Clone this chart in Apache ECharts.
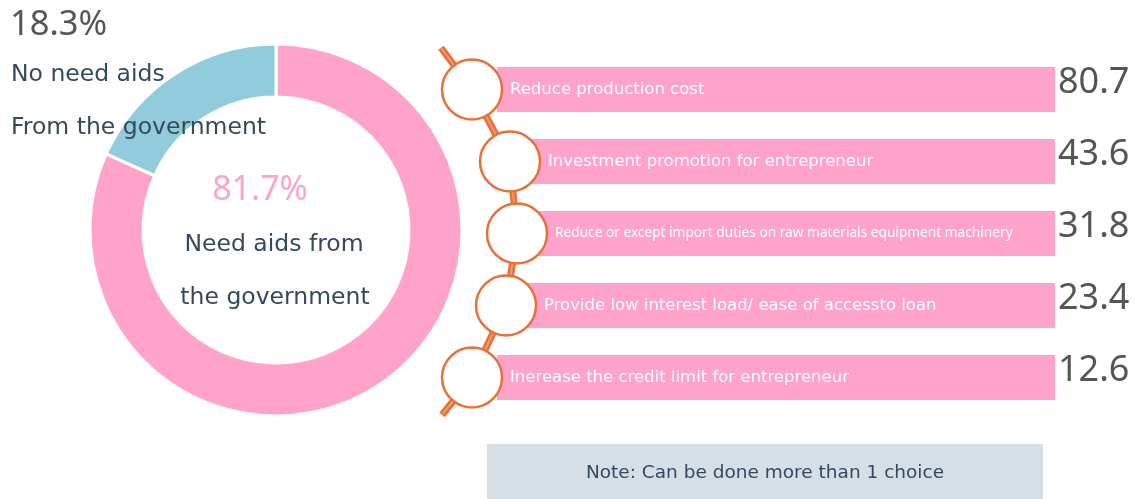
<!DOCTYPE html>
<html>
<head>
<meta charset="utf-8">
<script src="https://cdn.jsdelivr.net/npm/echarts@6/dist/echarts.min.js"></script>
<style>
  html, body { margin: 0; padding: 0; background: #fff; }
  #chart { width: 1135px; height: 499px; }
</style>
</head>
<body>
<div id="chart"></div>
<script>
// donut
const shareNames = ['Need aids from the government', 'No need aids From the government'];
const shareValues = [81.7, 18.3];

// bars (all drawn as full tracks in the original)
const reasons = [
  'Reduce production cost',
  'Investment promotion for entrepreneur',
  'Reduce or except import duties on raw materials equipment machinery',
  'Provide low interest load/ ease of accessto loan',
  'Inerease the credit limit for entrepreneur'
];
const reasonValues = [80.7, 43.6, 31.8, 23.4, 12.6];

// zigzag of the bead string (x offset in a 0..100 decor axis)
const beadX = [42, 80, 87, 76, 42];
const stringTop = [11, -0.58];
const stringBottom = [12, 4.52];

const PINK = '#ffa3cb';
const BLUE = '#92cbdc';
const ORANGE = '#e8703a';
const DARK = '#34495e';

const chart = echarts.init(document.getElementById('chart'));

const barLeft = 497;
const decorLeft = 430;

const barData = reasonValues.map((v, i) => ({
  value: v,
  label: {
    offset: [decorLeft + beadX[i] + 38 - barLeft - 5, 0],
    fontSize: i === 2 ? 13.7 : 16.5,
    fontFamily: i === 2 ? 'Noto Sans' : 'DejaVu Sans'
  }
}));

const stringPath = [stringTop].concat(beadX.map((x, i) => [x, i]), [stringBottom]);

const txt = (style, pos) => Object.assign({ type: 'text', z: 100 }, pos, { style: style });

chart.setOption({
  animation: false,
  grid: [
    { left: barLeft, right: 80, top: 53.5, height: 360 },
    { left: decorLeft, width: 100, top: 53.5, height: 360 },
    // value labels sit a little above the bar centres
    { left: barLeft, right: 80, top: 46.5, height: 360 }
  ],
  xAxis: [
    { gridIndex: 0, type: 'value', min: 0, max: 100, show: false },
    { gridIndex: 1, type: 'value', min: 0, max: 100, show: false },
    { gridIndex: 2, type: 'value', min: 0, max: 100, show: false }
  ],
  yAxis: [
    { gridIndex: 0, type: 'category', data: reasons, inverse: true, show: false },
    {
      gridIndex: 2, type: 'category', position: 'right', inverse: true,
      data: reasonValues.map(v => v.toFixed(1)),
      axisLine: { show: false }, axisTick: { show: false },
      axisLabel: { margin: 3, fontSize: 36, color: '#555', fontFamily: 'Noto Sans' }
    },
    { gridIndex: 1, type: 'value', min: -0.5, max: 4.5, inverse: true, show: false }
  ],
  series: [
    {
      type: 'pie',
      center: [276, 230],
      radius: [133, 186],
      startAngle: 90,
      z: 1,
      label: { show: false },
      emphasis: { disabled: true },
      itemStyle: { borderColor: '#fff', borderWidth: 3 },
      data: shareValues.map((v, i) => ({
        name: shareNames[i], value: v,
        itemStyle: { color: i === 0 ? PINK : BLUE }
      }))
    },
    {
      type: 'bar',
      xAxisIndex: 0, yAxisIndex: 0,
      barWidth: 45,
      z: 2,
      showBackground: true,
      backgroundStyle: { color: PINK },
      itemStyle: { color: PINK },
      label: {
        show: true, position: 'insideLeft', color: '#fff',
        formatter: p => reasons[p.dataIndex]
      },
      data: barData
    },
    {
      type: 'line',
      xAxisIndex: 1, yAxisIndex: 2,
      z: 3, clip: false, symbol: 'none',
      lineStyle: { color: ORANGE, width: 7 },
      data: stringPath
    },
    {
      type: 'line',
      xAxisIndex: 1, yAxisIndex: 2,
      z: 3, clip: false, symbol: 'none',
      lineStyle: { color: '#f29a6c', width: 2 },
      data: stringPath
    },
    {
      type: 'scatter',
      xAxisIndex: 1, yAxisIndex: 2,
      z: 5, clip: false,
      symbolSize: 60,
      itemStyle: { color: '#fff', borderColor: ORANGE, borderWidth: 2.5, opacity: 1 },
      data: beadX.map((x, i) => [x, i])
    }
  ],
  graphic: [
    txt({ text: shareValues[1] + '%', fontSize: 34.5, fill: '#555', fontFamily: 'Noto Sans',
          verticalAlign: 'middle' }, { x: 10, y: 25 }),
    txt({ text: 'No need aids', fontSize: 23.5, fill: DARK, fontFamily: 'DejaVu Sans',
          verticalAlign: 'middle' }, { x: 11, y: 75 }),
    txt({ text: 'From the government', fontSize: 23.5, fill: DARK, fontFamily: 'DejaVu Sans',
          verticalAlign: 'middle' }, { x: 11, y: 128 }),
    txt({ text: shareValues[0] + '%', fontSize: 34, fill: PINK, fontFamily: 'Noto Sans',
          align: 'center', verticalAlign: 'middle' }, { x: 260, y: 190 }),
    txt({ text: 'Need aids from', fontSize: 23.5, fill: DARK, fontFamily: 'DejaVu Sans',
          align: 'center', verticalAlign: 'middle' }, { x: 274, y: 245 }),
    txt({ text: 'the government', fontSize: 23.5, fill: DARK, fontFamily: 'DejaVu Sans',
          align: 'center', verticalAlign: 'middle' }, { x: 275, y: 298 }),
    { type: 'rect', z: 99, shape: { x: 487, y: 444, width: 556, height: 60 },
      style: { fill: '#d6dee6' } },
    txt({ text: 'Note: Can be done more than 1 choice', fontSize: 18.5, fill: DARK,
          fontFamily: 'DejaVu Sans', align: 'center', verticalAlign: 'middle' }, { x: 765, y: 473 })
  ]
});
</script>
</body>
</html>
